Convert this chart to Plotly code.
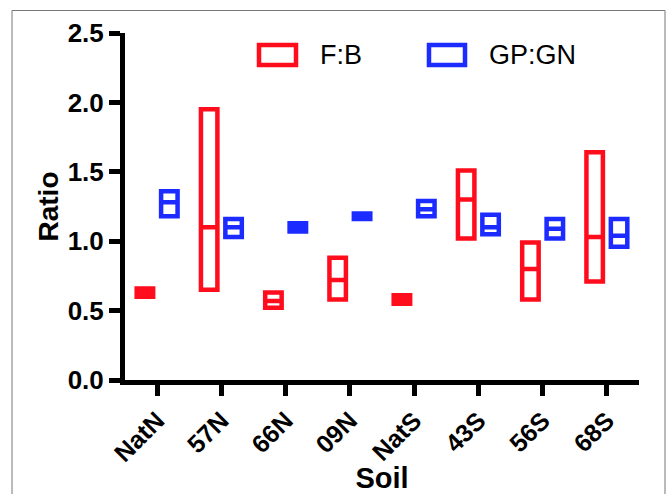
import plotly.graph_objects as go

categories = ["NatN", "57N", "66N", "09N", "NatS", "43S", "56S", "68S"]

fb_min = [0.60, 0.65, 0.52, 0.58, 0.55, 1.02, 0.58, 0.71]
fb_mid = [0.63, 1.10, 0.57, 0.72, 0.58, 1.30, 0.80, 1.03]
fb_max = [0.66, 1.95, 0.63, 0.88, 0.61, 1.51, 0.99, 1.64]

gp_min = [1.18, 1.03, 1.07, 1.16, 1.18, 1.05, 1.02, 0.96]
gp_mid = [1.28, 1.10, 1.10, 1.18, 1.23, 1.10, 1.09, 1.04]
gp_max = [1.36, 1.16, 1.13, 1.20, 1.29, 1.19, 1.16, 1.16]

series_names = ["F:B", "GP:GN"]
RED = "#ff0d1d"
BLUE = "#1c2bff"
FONT = "Liberation Sans, Arial, sans-serif"

fig = go.Figure()
for name, lo, mid, hi, col in [
    (series_names[0], fb_min, fb_mid, fb_max, RED),
    (series_names[1], gp_min, gp_mid, gp_max, BLUE),
]:
    fig.add_trace(go.Box(
        x=categories, q1=lo, median=mid, q3=hi, lowerfence=lo, upperfence=hi,
        name=name, fillcolor="white", line=dict(color=col, width=4.5),
        whiskerwidth=0, boxpoints=False, showlegend=False, hoverinfo="skip",
    ))

# legend drawn as large outlined boxes (paper coords)
legend_items = [
    (series_names[0], RED, 0.2607, 0.3327, 0.3755),
    (series_names[1], BLUE, 0.5914, 0.6615, 0.7043),
]
for name, col, x0, x1, tx in legend_items:
    fig.add_shape(type="rect", xref="paper", yref="paper", x0=x0, x1=x1,
                  y0=0.9078, y1=0.9654, line=dict(color=col, width=4.5),
                  fillcolor="white")
    fig.add_annotation(xref="paper", yref="paper", x=tx, y=0.9366, text=name,
                       showarrow=False, xanchor="left", yanchor="middle",
                       font=dict(family=FONT, size=27, color="black"))

# outer grey frame
fig.add_shape(type="rect", xref="paper", yref="paper", x0=-0.2198, x1=1.0506,
              y0=-0.40, y1=1.0648, line=dict(color="#777777", width=1),
              layer="below")

fig.update_layout(
    template="none",
    width=667, height=494,
    margin=dict(l=125, r=28, t=33, b=114, autoexpand=False),
    plot_bgcolor="white", paper_bgcolor="white",
    boxmode="group", boxgap=0.24, boxgroupgap=0.326,
    font=dict(family=FONT, color="black"),
)
fig.update_xaxes(
    type="category", range=[-0.5, 7.5], automargin=False,
    showline=True, linewidth=5, linecolor="black",
    ticks="outside", ticklen=11, tickwidth=5, tickcolor="black",
    tickangle=-45, tickfont=dict(family=FONT, size=25, weight="bold", color="black"),
    showgrid=False, zeroline=False,
    title=dict(text="Soil", standoff=8,
               font=dict(family=FONT, size=29, weight="bold", color="black")),
)
fig.update_yaxes(
    range=[0, 2.5], dtick=0.5, tick0=0, tickformat=".1f", automargin=False,
    showline=True, linewidth=5, linecolor="black",
    ticks="outside", ticklen=11, tickwidth=5, tickcolor="black",
    tickfont=dict(family=FONT, size=26, weight="bold", color="black"),
    showgrid=False, zeroline=False,
    title=dict(text="Ratio", standoff=2,
               font=dict(family=FONT, size=28, weight="bold", color="black")),
)

fig.write_html(
    "out.html",
    config={"displayModeBar": False},
    post_script="document.body.style.margin='0px';document.body.style.overflow='hidden';",
)
